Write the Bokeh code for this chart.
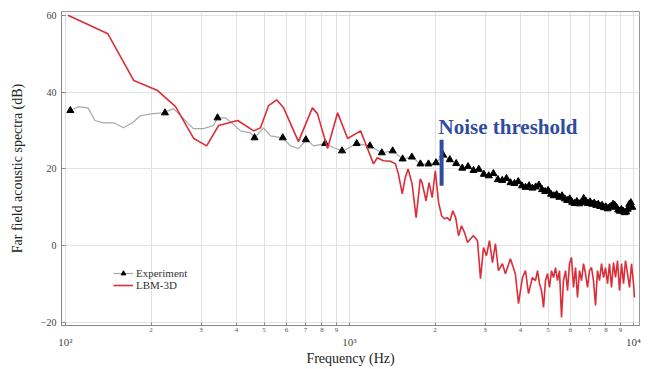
from bokeh.plotting import figure
from bokeh.models import Range1d, LogAxis, FixedTicker, Legend, LegendItem, Label
from bokeh.embed import file_html
from bokeh.resources import INLINE
from bokeh.core.properties import value

# ---------------- data ----------------
lbm_freq = [102, 141, 174, 211, 244, 283, 314, 346, 404, 460, 486, 519, 554, 586,
            661, 740, 771, 837, 908, 985, 1094, 1157, 1215, 1253, 1315, 1394, 1451,
            1486, 1534, 1571, 1608, 1661, 1716, 1775, 1801, 1860, 1906, 1955, 2005,
            2060, 2110, 2160, 2210, 2260, 2310, 2365, 2421, 2480, 2541, 2604, 2668,
            2733, 2823, 2892, 2963, 3036, 3110, 3187, 3265, 3345, 3455, 3540, 3686,
            3836, 3936, 4064, 4166, 4268, 4406, 4517, 4592, 4667, 4744, 4822, 4899,
            4980, 5061, 5144, 5228, 5314, 5400, 5488, 5579, 5669, 5762, 5857, 5951,
            6049, 6148, 6249, 6350, 6455, 6560, 6667, 6776, 6887, 7000, 7114, 7231,
            7349, 7467, 7591, 7715, 7842, 7969, 8100, 8231, 8366, 8504, 8642, 8785,
            8928, 9074, 9222, 9372, 9526, 9681, 9840, 10000, 10080]
lbm_db = [60.0, 55.2, 43.0, 40.4, 36.2, 27.9, 26.0, 31.3, 32.6, 29.9, 30.7, 36.5, 38.0, 35.9,
          27.1, 35.9, 34.4, 25.3, 34.6, 27.9, 29.9, 25.3, 21.3, 22.9, 22.1, 22.0, 21.3,
          18.7, 13.5, 17.7, 20.0, 16.1, 7.3, 17.4, 16.4, 11.7, 16.4, 12.5, 19.5,
          11.2, 7.8, 7.0, 7.3, 6.5, 9.1, 7.3, 2.6, 5.2, 3.4, 0.8, 1.8,
          2.6, 1.3, -8.6, -0.5, -2.6, 1.3, -4.4, 0.5, -6.5, -4.7, -7.3, -3.4,
          -7.3, -15.1, -8.3, -6.5, -12.5, -8.3, -9.1, -6.5, -9.9, -11.7, -16.1, -9.1,
          -7.3, -10.9, -6.5, -8.3, -5.7, -9.1, -6.5, -18.7, -9.1, -6.5, -11.7, -4.7,
          -3.1, -10.9, -5.7, -13.5, -6.5, -9.1, -4.7, -7.3, -10.9, -6.5, -5.7, -9.1,
          -15.6, -6.5, -9.1, -4.7, -8.3, -5.7, -9.9, -4.7, -10.9, -4.4, -8.3, -3.9,
          -11.7, -4.7, -9.9, -3.9, -7.3, -10.9, -4.7, -9.9, -13.5]

# experiment: detailed low-frequency curve (grey line)
exp_low_freq = [104, 111, 120, 127, 136, 148, 160, 172, 184, 204, 221, 240, 254, 269,
                282, 306, 332, 343, 366, 387, 413, 448, 463, 498, 527, 581, 620, 661,
                706, 747, 823, 878, 953]
exp_low_db = [35.2, 36.2, 35.9, 32.6, 32.0, 32.0, 30.7, 32.0, 33.9, 34.4, 34.6, 35.7, 33.9, 32.0,
              30.5, 30.5, 31.3, 33.3, 33.3, 31.8, 29.9, 29.4, 28.1, 30.7, 28.6, 28.1, 26.0, 25.3,
              27.6, 26.0, 26.6, 25.5, 24.7]

# experiment: marker points
exp_freq = [104, 224, 343, 463, 582, 702, 821, 941, 1060, 1180, 1299, 1419, 1538, 1658,
            1777, 1897, 2016, 2136, 2255, 2375, 2494, 2614, 2733, 2853, 2972, 3092, 3211,
            3331, 3450, 3570, 3689, 3809, 3928, 4048, 4167, 4287, 4406, 4526, 4645, 4765,
            4884, 5004, 5123, 5243, 5362, 5482, 5601, 5721, 5840, 5960, 6079, 6199, 6318,
            6438, 6557, 6677, 6796, 6916, 7035, 7155, 7274, 7394, 7513, 7633, 7752, 7872,
            7991, 8111, 8230, 8350, 8469, 8589, 8708, 8828, 8947, 9067, 9186, 9306, 9425,
            9545, 9664, 9784, 9903]
exp_db = [35.2, 34.6, 33.3, 28.1, 28.1, 27.6, 26.6, 24.7, 26.6, 26.0, 24.2, 24.7, 22.6, 23.1,
          21.3, 21.3, 21.6, 23.6, 22.4, 21.4, 20.2, 20.6, 19.6, 19.9, 18.6, 18.2, 18.8,
          17.2, 17.0, 17.5, 16.4, 16.2, 16.7, 15.6, 15.2, 15.6, 15.0, 15.3, 15.8, 14.6,
          14.1, 14.4, 13.4, 13.0, 13.3, 12.6, 13.0, 12.2, 11.8, 12.2, 11.3, 11.0, 11.5,
          10.9, 11.2, 12.3, 11.6, 11.0, 11.4, 10.8, 11.1, 10.5, 10.8, 10.2, 10.5, 9.9,
          10.1, 9.6, 10.0, 10.3, 10.8, 10.5, 10.0, 9.3, 9.0, 9.4, 9.0, 8.6, 8.8,
          9.5, 10.8, 11.2, 10.0]

x_minor_ticks = [200, 300, 400, 500, 600, 700, 800, 900,
                 2000, 3000, 4000, 5000, 6000, 7000, 8000, 9000]
x_minor_labels = ["2", "3", "4", "5", "6", "7", "8", "9",
                  "2", "3", "4", "5", "6", "7", "8", "9"]
x_major_ticks = [100, 1000, 10000]
x_major_labels = ["10\u00b2", "10\u00b3", "10\u2074"]
y_ticks = [-20, 0, 20, 40, 60]

noise_label = "Noise threshold"
noise_label_pos = (2057, 30.9)
noise_bar_freq = 2110
noise_bar_db = (15.6, 27.6)

# ---------------- styles ----------------
SERIF = "Liberation Serif"
RED = "#dc2d38"
GREY = "#a8a8a8"
BLUE = "#2f4c9e"

p = figure(width=649, height=369, x_axis_type="log",
           x_range=Range1d(96.8, 10498), y_range=Range1d(-20.8, 61.0),
           output_backend="svg", toolbar_location=None,
           min_border_left=61, min_border_right=10, min_border_top=11, min_border_bottom=44)
p.background_fill_color = "white"
p.outline_line_color = "#9a9a9a"

# grids
p.xgrid.ticker = FixedTicker(ticks=x_major_ticks + x_minor_ticks)
p.ygrid.ticker = FixedTicker(ticks=y_ticks)
p.xgrid.grid_line_color = "#e2e2e2"
p.ygrid.grid_line_color = "#e2e2e2"

# bottom axis 1: digit labels
ax1 = p.xaxis[0]
ax1.ticker = FixedTicker(ticks=x_major_ticks + x_minor_ticks)
ov = {t: l for t, l in zip(x_minor_ticks, x_minor_labels)}
ov.update({t: "" for t in x_major_ticks})
ax1.major_label_overrides = ov
ax1.major_label_text_font = SERIF
ax1.major_label_text_font_size = "7px"
ax1.major_label_text_color = "#555555"
ax1.major_label_standoff = 2
ax1.major_tick_in = 3
ax1.major_tick_out = 0
ax1.major_tick_line_color = "#888888"
ax1.minor_tick_line_color = None
ax1.axis_line_color = "#888888"

# bottom axis 2: powers of ten + title
ax2 = LogAxis(ticker=FixedTicker(ticks=x_major_ticks),
              major_label_overrides={t: l for t, l in zip(x_major_ticks, x_major_labels)})
ax2.major_label_text_font = SERIF
ax2.major_label_text_font_size = "11px"
ax2.major_label_text_color = "#444444"
ax2.major_label_standoff = 1
ax2.major_tick_in = 0
ax2.major_tick_out = 0
ax2.minor_tick_in = 0
ax2.minor_tick_out = 0
ax2.major_tick_line_color = None
ax2.minor_tick_line_color = None
ax2.axis_line_color = None
ax2.axis_label = "Frequency (Hz)"
ax2.axis_label_text_font = SERIF
ax2.axis_label_text_font_size = "14px"
ax2.axis_label_text_font_style = "normal"
ax2.axis_label_text_color = "#222222"
ax2.axis_label_standoff = 0
p.add_layout(ax2, "below")

# y axis
ya = p.yaxis[0]
ya.ticker = FixedTicker(ticks=y_ticks)
ya.major_label_text_font = SERIF
ya.major_label_text_font_size = "10px"
ya.major_label_text_color = "#444444"
ya.major_label_standoff = 5
ya.major_tick_in = 4
ya.major_tick_out = 0
ya.major_tick_line_color = "#888888"
ya.minor_tick_line_color = None
ya.axis_line_color = "#888888"
ya.axis_label = "Far field acoustic spectra (dB)"
ya.axis_label_text_font = SERIF
ya.axis_label_text_font_size = "14px"
ya.axis_label_text_font_style = "normal"
ya.axis_label_text_color = "#222222"
ya.axis_label_standoff = 13

# data
exp_line_freq = exp_low_freq + exp_freq[8:]
exp_line_db = exp_low_db + exp_db[8:]
grey = p.line(exp_line_freq, exp_line_db, line_color=GREY, line_width=1.2)
marks = p.scatter(exp_freq, exp_db, marker="triangle", size=7,
                  fill_color="black", line_color="black")
red = p.line(lbm_freq, lbm_db, line_color=RED, line_width=1.6)

# noise threshold annotation
p.segment(x0=[noise_bar_freq], y0=[noise_bar_db[0]], x1=[noise_bar_freq], y1=[noise_bar_db[1]],
          line_color=BLUE, line_width=4)
p.add_layout(Label(x=noise_label_pos[0], y=noise_label_pos[1], text=noise_label,
                   text_font=SERIF, text_font_style="bold", text_font_size="21px",
                   text_color=BLUE, text_baseline="alphabetic"))

legend = Legend(items=[LegendItem(label="Experiment", renderers=[grey, marks]),
                       LegendItem(label="LBM-3D", renderers=[red])],
                location=(52, 34))
legend.background_fill_alpha = 0
legend.border_line_color = None
legend.padding = 0
legend.margin = 0
legend.spacing = 0
legend.glyph_height = 12
legend.glyph_width = 20
legend.label_height = 12
legend.label_standoff = 3
legend.label_text_font = SERIF
legend.label_text_font_size = "11px"
legend.label_text_color = "#333333"
p.add_layout(legend, "center")

open("out.html", "w").write(file_html(p, INLINE))
